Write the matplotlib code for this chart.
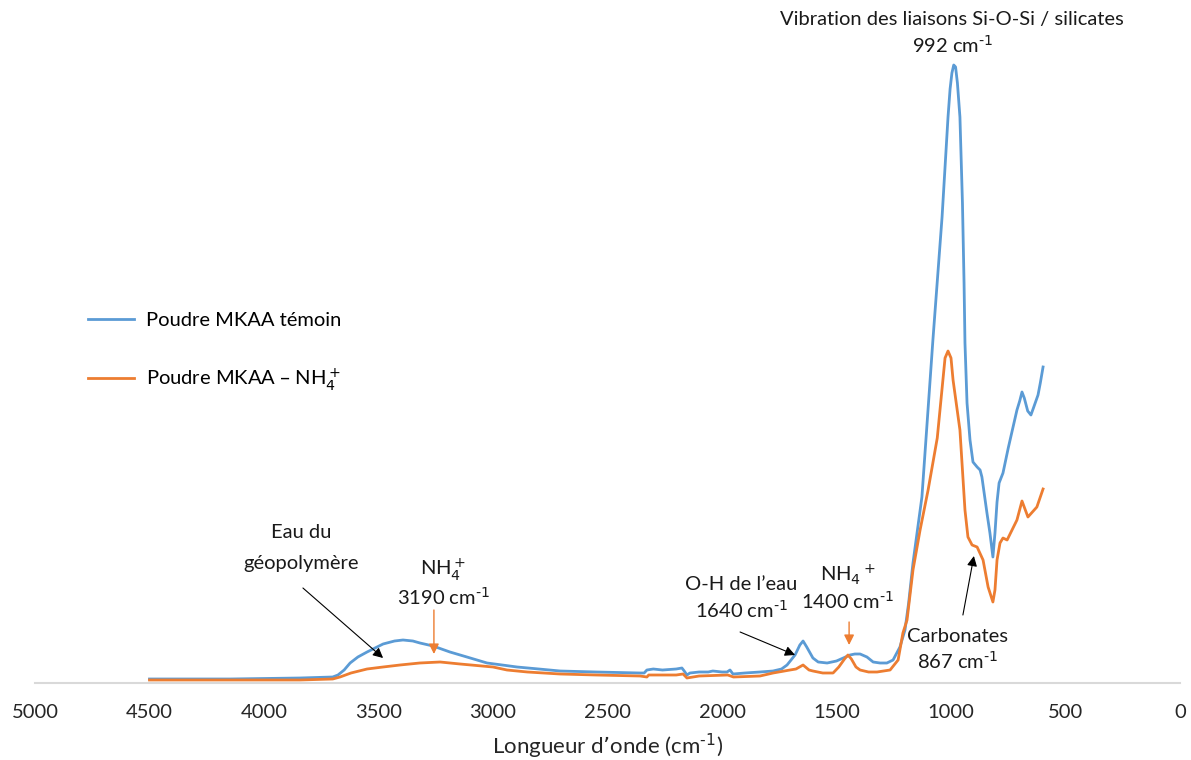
import numpy as np
import matplotlib.pyplot as plt

plt.rcParams['font.family'] = ['Lato', 'DejaVu Sans']

# spectres FTIR (nombre d'onde en cm-1, intensite en u.a.)
wn_temoin = [4500, 4148, 3843, 3700, 3677, 3650, 3624, 3590, 3550, 3480, 3430, 3393,
             3350, 3319, 3262, 3188, 3114, 3026, 2960, 2895, 2800, 2707, 2550, 2358,
             2340, 2328, 2300, 2260, 2200, 2175, 2165, 2153, 2140, 2100, 2060, 2040,
             2000, 1978, 1965, 1952, 1900, 1834, 1777, 1740, 1716, 1681, 1660, 1646,
             1630, 1603, 1580, 1541, 1500, 1441, 1420, 1397, 1367, 1340, 1310, 1280,
             1253, 1223, 1201, 1185, 1166, 1127, 1079, 1039, 1013, 1004, 996, 988,
             980, 972, 961, 950, 943, 939, 930, 917, 904, 886, 873, 865, 843,
             830, 817, 808, 799, 790, 773, 750, 712, 700, 690, 680, 665, 651, 640,
             620, 610, 598]
i_temoin = [4, 4, 5, 6, 8, 13, 20, 26, 31, 39, 42, 43,
            42, 40, 37, 31, 26, 20, 18, 16, 14, 12, 11, 10,
            10, 13, 14, 13, 14, 15, 12, 8, 10, 11, 11, 12,
            11, 11, 13, 9, 10, 11, 12, 14, 18, 28, 38, 42,
            36, 25, 21, 20, 22, 28, 29, 29, 26, 21, 20, 20,
            23, 36, 53, 80, 120, 186, 343, 466, 566, 594, 610, 618,
            616, 600, 566, 480, 400, 340, 280, 243, 221, 216, 213, 206, 170,
            150, 126, 150, 181, 200, 210, 235, 273, 282, 291, 285, 272, 268, 275,
            288, 300, 316]

wn_nh4 = [4500, 3843, 3700, 3668, 3620, 3550, 3480, 3406, 3320, 3231, 3144, 3000,
          2939, 2850, 2707, 2550, 2358, 2328, 2320, 2200, 2170, 2153, 2100, 1975,
          1950, 1834, 1777, 1703, 1677, 1646, 1620, 1603, 1560, 1515, 1490, 1465,
          1450, 1435, 1415, 1397, 1360, 1323, 1266, 1231, 1210, 1192, 1166, 1135,
          1100, 1060, 1026, 1013, 1000, 991, 961, 939, 926, 908, 886, 860, 838,
          817, 808, 799, 786, 773, 755, 712, 690, 664, 625, 598]
i_nh4 = [3, 3, 4, 6, 10, 14, 16, 18, 20, 21, 19, 16,
         13, 11, 9, 8, 7, 6, 8, 8, 9, 5, 7, 8,
         6, 7, 10, 13, 14, 18, 13, 12, 10, 10, 16, 24,
         28, 24, 16, 13, 11, 11, 13, 23, 50, 63, 113, 153,
         193, 245, 325, 332, 325, 303, 253, 173, 146, 138, 136, 123, 96,
         81, 93, 123, 140, 145, 143, 163, 182, 166, 176, 194]

xticks = list(range(0, 5001, 500))

blue = '#5B9BD5'
orange = '#ED7D31'

fig = plt.figure(figsize=(11.91, 7.6), dpi=100)
ax = fig.add_axes([35 / 1191, 1 - 683 / 760, 1145 / 1191, 683 / 760])

l1, = ax.plot(wn_temoin, i_temoin, color=blue, lw=2, label='Poudre MKAA témoin')
l2, = ax.plot(wn_nh4, i_nh4, color=orange, lw=2, label='Poudre MKAA – NH$_4^+$')

ax.set_xlim(5000, 0)
ax.set_ylim(0, 683)
ax.set_xticks(xticks)
ax.set_xticklabels([str(t) for t in xticks])
ax.set_yticks([])
for s in ['top', 'left', 'right']:
    ax.spines[s].set_visible(False)
ax.spines['bottom'].set_color('#D9D9D9')
ax.spines['bottom'].set_linewidth(1.5)
ax.tick_params(axis='x', length=0, pad=15, labelsize=14.5, labelcolor='#262626')
ax.set_xlabel('Longueur d\u2019onde (cm$^{\\text{-}1}$)', fontsize=16, color='#262626', labelpad=8)

ax.legend(handles=[l1, l2], loc='upper left', bbox_to_anchor=(88 / 1191, 1 - 312 / 760),
          bbox_transform=fig.transFigure, frameon=False, fontsize=14.5,
          handlelength=2.3, handletextpad=0.6, labelspacing=1.85,
          borderpad=0, borderaxespad=0)

fs = 14.5
cm = 'cm$^{\\text{-}1}$'


def label(x, y1, y2, l1txt, l2txt):
    ax.text(x, y1, l1txt, ha='center', va='center', fontsize=fs, color='#1a1a1a')
    ax.text(x, y2, l2txt, ha='center', va='center', fontsize=fs, color='#1a1a1a')


label(995, 663, 638, 'Vibration des liaisons Si-O-Si / silicates', '992 ' + cm)
label(3838, 150, 120, 'Eau du', 'géopolymère')
label(3218, 113, 86, 'NH$_4^+$', '3190 ' + cm)
label(1917, 98, 73, 'O-H de l\u2019eau', '1640 ' + cm)
label(1450, 108, 82, 'NH$_4$$^+$', '1400 ' + cm)
label(970, 47, 22, 'Carbonates', '867 ' + cm)

kb = dict(arrowstyle='-|>', color='black', lw=0.8, mutation_scale=15, shrinkA=0, shrinkB=0)
ko = dict(arrowstyle='-|>', color=orange, lw=1, mutation_scale=15, shrinkA=0, shrinkB=0)

ax.annotate('', xy=(3480, 25), xytext=(3830, 95), arrowprops=kb)
ax.annotate('', xy=(3258, 29), xytext=(3258, 73), arrowprops=ko)
ax.annotate('', xy=(1681, 28), xytext=(1921, 51), arrowprops=kb)
ax.annotate('', xy=(1445, 38), xytext=(1445, 61), arrowprops=ko)
ax.annotate('', xy=(900, 127), xytext=(948, 68), arrowprops=kb)

fig.savefig('out.png', dpi=100)
